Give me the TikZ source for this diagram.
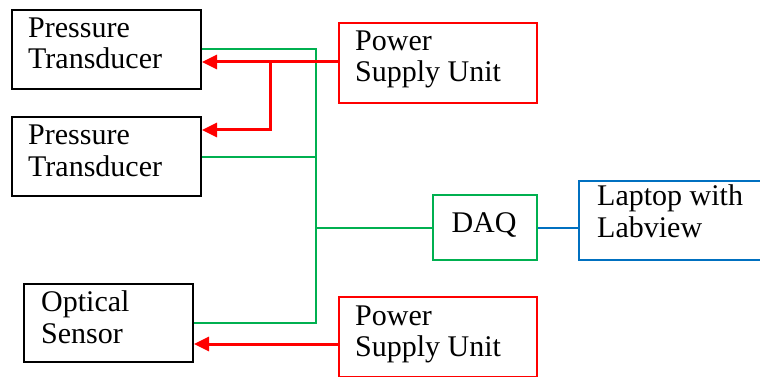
\documentclass[tikz,border=0pt]{standalone}
\usepackage{fontspec}
\setmainfont{LiberationSerif-Regular.ttf}
\usetikzlibrary{arrows.meta}
\definecolor{pgreen}{RGB}{0,176,80}
\definecolor{pblue}{RGB}{0,112,192}
\definecolor{pred}{RGB}{255,0,0}
\tikzset{
  boxbase/.style={draw, line width=2pt, rectangle, inner sep=0pt, anchor=north west},
  blackbox/.style={boxbase, draw=black},
  redbox/.style={boxbase, draw=pred},
  greenbox/.style={boxbase, draw=pgreen},
  bluebox/.style={boxbase, draw=pblue},
  lbl/.style={inner sep=0pt, anchor=base west, font=\rmfamily\fontsize{30}{31}\selectfont},
  sig/.style={draw=pgreen, line width=2pt},
  pwr/.style={draw=pred, line width=3pt, -{Triangle[length=15pt,width=14pt]}},
  lnk/.style={draw=pblue, line width=2pt},
}
\begin{document}
\begin{tikzpicture}[x=1pt,y=-1pt]
\useasboundingbox (0,0) rectangle (760,377);
% boxes
\node[blackbox, minimum width=189pt, minimum height=79pt] (pt1) at (11,9) {};
\node[blackbox, minimum width=189pt, minimum height=79pt] (pt2) at (11,116) {};
\node[blackbox, minimum width=169pt, minimum height=78pt] (opt) at (23,283) {};
\node[redbox, minimum width=198pt, minimum height=80pt] (psu1) at (338,22) {};
\node[redbox, minimum width=198pt, minimum height=80pt] (psu2) at (338,296) {};
\node[greenbox, minimum width=104pt, minimum height=65pt] (daq) at (432,194) {};
\node[bluebox, minimum width=190pt, minimum height=79pt] (lap) at (578,180) {};
% texts
\node[lbl] (tpt1a) at (28,38) {Pressure};
\node[lbl] (tpt1b) at (28,69) {Transducer};
\node[lbl] (tpt2a) at (28,145) {Pressure};
\node[lbl] (tpt2b) at (28,176) {Transducer};
\node[lbl] (topta) at (41,311) {Optical};
\node[lbl] (toptb) at (41,343) {Sensor};
\node[lbl] (tpsu1a) at (355,51) {Power};
\node[lbl] (tpsu1b) at (355,82) {Supply Unit};
\node[lbl] (tpsu2a) at (355,325) {Power};
\node[lbl] (tpsu2b) at (355,356) {Supply Unit};
\node[lbl, anchor=base] (tdaq) at (484,232) {DAQ};
\node[lbl] (tlapa) at (597,205) {Laptop with};
\node[lbl] (tlapb) at (597,237) {Labview};
% junction coordinates
\coordinate (gx) at (316,0);
\coordinate (rb) at (270,62);
\coordinate (r3) at (338,344);
% green signal lines
\draw[sig] (pt1.east) -- (pt1.east -| gx) -- (opt.east -| gx) -- (opt.east);
\draw[sig] (pt2.east) -- (pt2.east -| gx);
\draw[sig] (daq.west) -- (daq.west -| gx);
% blue link
\draw[lnk] (daq.east) -- (daq.east -| lap.west);
% red power lines
\draw[pwr] (rb -| psu1.west) -- (rb -| pt1.east);
\draw[pwr] (rb) -- (rb |- 0,130) -- (pt2.east |- 0,130);
\draw[pwr] (r3) -- (r3 -| opt.east);
\end{tikzpicture}
\end{document}
